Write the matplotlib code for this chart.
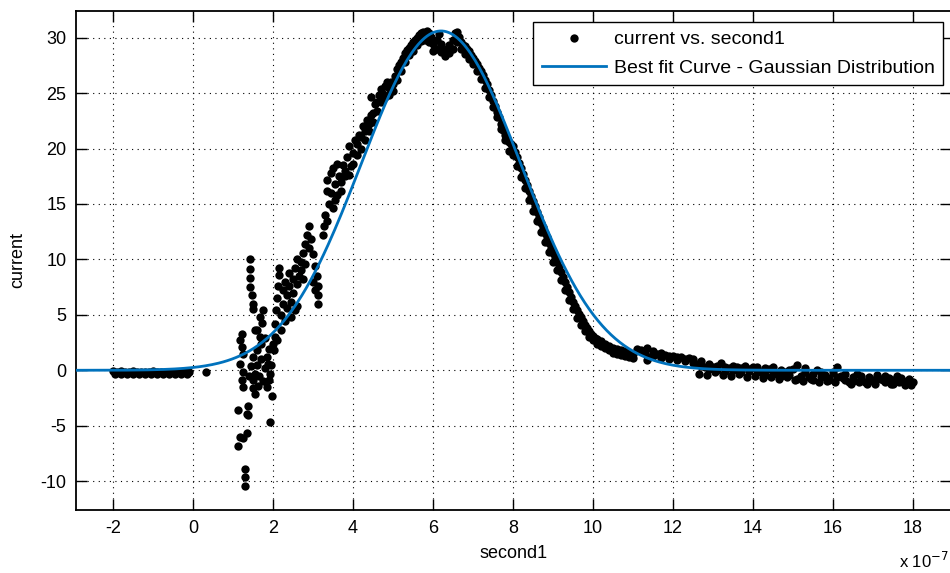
import numpy as np
import matplotlib.pyplot as plt

# time values are in units of 1e-7 s (the axis shows "x 10^-7")
sec_flat = [-2.0, -1.9, -1.8, -1.7, -1.6, -1.5, -1.4, -1.3, -1.2, -1.1,
            -1.0, -0.9, -0.8, -0.7, -0.6, -0.5, -0.4, -0.3, -0.2, -0.1, 0.33,
            -1.95, -1.8, -1.65, -1.5, -1.35, -1.2, -1.05, -0.9, -0.75, -0.6,
            -0.45, -0.3, -0.15]
cur_flat = [-0.1, -0.15, -0.1, -0.2, -0.15, -0.1, -0.2, -0.15, -0.2, -0.15,
            -0.1, -0.2, -0.15, -0.2, -0.2, -0.15, -0.2, -0.2, -0.15, -0.2, -0.2,
            -0.35, -0.3, -0.35, -0.3, -0.35, -0.35, -0.3, -0.35, -0.3, -0.35,
            -0.3, -0.35, -0.3]

# noisy start of the pulse
sec_noise = [1.43, 1.43, 1.43, 1.48, 1.5, 1.5, 1.68, 1.73, 1.6, 1.18,
             1.23, 1.25, 1.5, 1.18, 1.45, 1.25, 1.23, 1.25, 1.5, 1.5,
             1.55, 1.85, 1.98, 1.93, 1.88, 1.85, 1.13, 1.35, 1.38, 1.93,
             1.35, 1.25, 1.13, 1.3, 1.3, 1.3, 1.6, 1.7, 1.8, 1.65,
             1.75, 1.6, 1.7, 1.8, 1.9, 1.9, 1.95, 1.55, 1.62, 1.4,
             1.43, 1.75, 1.55, 1.68, 1.23, 1.18, 1.38]
cur_noise = [10.0, 9.1, 7.5, 6.8, 6.0, 5.5, 4.8, 4.3, 3.6, 2.7,
             2.1, 1.5, 1.2, 0.6, 0.4, -0.2, -0.9, -1.5, -0.9, -1.6,
             -2.1, -1.5, -2.3, -0.3, 0.6, 1.2, -3.6, -3.9, -3.2, -4.7,
             -5.7, -6.1, -6.8, -8.9, -9.6, -10.4, 1.8, 1.0, 0.2, -0.5,
             -1.0, 0.5, 2.4, 2.9, 1.9, -0.9, 0.5, -0.3, -1.4, -0.5,
             8.3, 5.4, 3.6, 3.0, 3.3, -6.0, -4.0]

# cloud between 2 and 3.3
sec_cloud = [2.05, 2.05, 2.08, 2.1, 2.12, 2.15, 2.15, 2.2, 2.2, 2.25,
             2.25, 2.3, 2.3, 2.35, 2.35, 2.4, 2.4, 2.45, 2.45, 2.5,
             2.5, 2.55, 2.55, 2.6, 2.6, 2.6, 2.0, 2.02, 2.1, 2.65,
             2.7, 2.7, 2.75, 2.75, 2.8, 2.8, 2.85, 2.9, 2.95, 3.0,
             3.05, 3.1, 3.12, 3.12, 3.12, 3.05, 3.0, 2.9]
cur_cloud = [3.0, 4.2, 5.4, 6.5, 7.6, 8.6, 9.2, 3.6, 5.0, 6.0,
             7.2, 8.0, 4.4, 5.6, 6.8, 7.6, 8.8, 4.8, 6.2, 7.0,
             8.2, 5.4, 9.2, 5.8, 7.8, 10.0, 2.4, 1.8, 2.7, 8.5,
             9.0, 9.8, 10.6, 8.2, 11.4, 9.6, 12.2, 13.0, 11.8, 10.5,
             7.2, 8.5, 7.6, 6.8, 6.0, 9.4, 8.0, 11.0]

# rising edge
sec_rise = [3.25, 3.28, 3.3, 3.35, 3.35, 3.35, 3.4, 3.45, 3.45, 3.55,
            3.55, 3.65, 3.7, 3.75, 3.8, 3.85, 3.95, 4.0, 4.05, 4.1,
            4.15, 4.2, 4.25, 4.3, 4.35, 4.4, 4.45, 4.5, 4.55, 4.6,
            4.65, 4.7, 4.75, 4.8, 4.9, 4.95, 5.0, 5.05, 5.1, 5.15,
            5.2, 5.25, 5.3, 5.35, 5.4, 5.45, 5.5, 5.55, 5.6, 5.65,
            3.5, 3.6, 3.9, 4.45, 4.85,
            3.5, 3.6, 3.7, 3.8, 3.9, 4.0, 4.1, 4.2, 4.3, 4.4,
            4.5, 4.6, 4.7, 4.8, 4.9, 5.0, 5.1, 5.2, 5.3, 5.4, 5.5]
cur_rise = [12.2, 13.0, 14.0, 13.5, 16.2, 17.2, 15.0, 17.8, 16.0, 16.8,
            15.4, 17.5, 16.2, 18.5, 17.5, 19.2, 18.4, 19.6, 20.8, 20.4,
            21.2, 21.0, 22.0, 21.6, 22.6, 22.2, 23.0, 23.2, 24.0, 24.2,
            24.8, 25.4, 24.9, 25.6, 25.5, 26.0, 25.8, 26.5, 27.2, 27.5,
            27.8, 28.2, 28.6, 28.9, 29.1, 29.3, 29.6, 29.8, 30.0, 30.2,
            18.2, 18.6, 20.2, 24.6, 26.0,
            14.6, 15.8, 17.0, 18.0, 17.6, 18.6, 19.4, 20.0, 20.8, 21.6,
            22.4, 23.4, 24.2, 24.6, 24.8, 25.2, 26.2, 27.0, 27.8, 28.4, 28.8]

# peak
sec_peak = [5.7, 5.75, 5.8, 5.85, 5.9, 5.95, 6.0, 6.05, 6.1, 6.15,
            6.2, 6.25, 6.3, 6.35, 6.4, 6.45, 6.5, 6.55, 6.6, 6.65,
            6.7, 6.75, 6.8, 6.85, 6.9, 6.95, 7.0, 7.05, 7.1, 7.15,
            7.2, 7.25, 7.3, 7.35, 7.4, 7.45, 7.5, 7.55, 7.6, 7.65,
            7.7, 7.75, 7.8, 7.85, 7.9, 7.95,
            5.6, 5.7, 5.8, 5.9, 6.0, 6.1, 6.2, 6.3, 6.4, 6.5,
            6.6, 6.7, 6.8, 6.9, 7.0, 7.1, 7.2, 7.3, 7.4, 7.5,
            7.6, 7.7, 7.8, 7.9]
cur_peak = [30.4, 30.5, 30.3, 30.6, 30.4, 30.1, 29.4, 29.0, 29.8, 30.3,
            29.4, 28.8, 28.6, 29.0, 29.3, 29.0, 29.8, 30.4, 30.5, 30.1,
            29.6, 29.3, 29.2, 29.0, 28.8, 28.4, 28.2, 27.9, 27.6, 27.3,
            27.0, 26.6, 26.2, 25.8, 25.3, 24.8, 24.3, 23.8, 23.3, 22.8,
            22.2, 21.7, 21.2, 20.8, 20.6, 20.4,
            29.3, 29.7, 29.8, 29.6, 28.8, 29.0, 28.7, 28.3, 28.6, 29.0,
            29.6, 29.0, 28.5, 28.1, 27.6, 27.0, 26.3, 25.5, 24.6, 23.7,
            22.8, 21.8, 20.8, 19.8]

# falling edge
sec_fall = [8.0, 8.05, 8.1, 8.15, 8.2, 8.25, 8.3, 8.35, 8.4, 8.45,
            8.5, 8.55, 8.6, 8.65, 8.7, 8.75, 8.8, 8.85, 8.9, 8.95,
            9.0, 9.05, 9.1, 9.15, 9.2, 9.25, 9.3, 9.35, 9.4, 9.45,
            9.5, 9.55, 9.6, 9.65, 9.7, 9.75, 9.8, 9.85, 9.9, 9.95,
            10.0, 10.05, 10.1, 10.2, 10.3, 10.4, 10.5, 10.6, 10.7, 10.8,
            10.9, 11.0, 11.35,
            8.0, 8.1, 8.2, 8.3, 8.4, 8.5, 8.6, 8.7, 8.8, 8.9,
            9.0, 9.1, 9.2, 9.3, 9.4, 9.5, 9.6, 9.7, 9.8, 9.9,
            10.0, 10.1, 10.2, 10.3, 10.4, 10.5, 10.6, 10.7, 10.8, 10.9, 11.0]
cur_fall = [20.2, 19.7, 19.2, 18.7, 18.2, 17.7, 17.2, 16.7, 16.2, 15.7,
            15.3, 14.8, 14.3, 13.8, 13.3, 12.9, 12.4, 12.0, 11.5, 11.0,
            10.6, 10.2, 9.8, 9.3, 8.9, 8.4, 8.0, 7.5, 7.1, 6.6,
            6.2, 5.8, 5.4, 5.1, 4.8, 4.4, 4.1, 3.8, 3.5, 3.3,
            3.1, 2.9, 2.8, 2.6, 2.4, 2.2, 2.0, 1.9, 1.8, 1.7,
            1.6, 1.5, 0.9,
            19.4, 18.4, 17.4, 16.4, 15.4, 14.4, 13.5, 12.5, 11.6, 10.7,
            9.8, 9.0, 8.1, 7.2, 6.3, 5.5, 4.7, 4.1, 3.5, 3.0,
            2.7, 2.4, 2.2, 2.0, 1.8, 1.6, 1.5, 1.4, 1.3, 1.2, 1.1]

# long tail
sec_tail = [11.2, 11.35, 11.5, 11.4, 11.6, 11.7, 11.8, 11.9, 12.0, 12.1,
            12.2, 12.3, 12.4, 12.5, 12.6, 12.7, 12.8, 12.9, 13.0, 13.1,
            13.2, 13.3, 13.4, 13.5, 13.6, 13.7, 13.8, 13.9, 14.0, 14.1,
            14.2, 14.3, 14.4, 14.5, 14.6, 14.7, 14.8, 14.9, 15.0, 15.1,
            15.2, 15.3, 15.4, 15.5, 15.6, 15.7, 15.8, 15.9, 16.0, 16.1,
            16.2, 16.3, 16.4, 16.5, 16.6, 16.7, 16.8, 16.9, 17.0, 17.1,
            17.2, 17.3, 17.4, 17.5, 17.6, 17.7, 17.8, 17.9, 18.0]
cur_tail = [1.8, 2.0, 1.7, 1.2, 1.5, 1.1, 1.4, 1.0, 1.3, 0.9,
            1.2, 0.8, 1.1, 0.7, 0.6, 0.4, 0.3, 0.6, 0.3, 0.4,
            0.7, 0.3, 0.2, 0.0, 0.3, 0.2, 0.4, 0.1, 0.3, 0.0,
            -0.2, 0.2, 0.1, -0.1, -0.3, 0.0, -0.2, -0.4, 0.1, 0.5,
            -0.5, -0.2, -0.6, -0.3, 0.0, -0.6, -0.4, -0.7, -0.2, 0.3,
            -0.5, -0.9, -1.1, -0.6, -0.3, -0.8, -1.1, -0.6, -0.9, -0.4,
            -0.8, -1.1, -0.7, -0.9, -0.5, -1.0, -1.3, -0.8, -1.1]
sec_tail2 = [12.65, 12.85, 13.05, 13.25, 13.45, 13.65, 13.85, 14.05, 14.25, 14.45,
             14.65, 14.85, 15.05, 15.25, 15.45, 15.65, 15.85, 16.05, 16.25, 16.45,
             16.65, 16.85, 17.05, 17.25, 17.45, 17.65, 17.85, 17.95,
             11.1, 11.3, 11.5, 11.7, 11.9, 12.1, 12.3, 12.5, 12.7, 12.9,
             13.1, 13.3, 13.5, 13.7, 13.9, 14.1, 14.3, 14.5, 14.7, 14.9,
             15.1, 15.3, 15.5, 15.7, 15.9, 16.1, 16.3, 16.5, 16.7, 16.9,
             17.1, 17.3, 17.5, 17.7, 17.9]
cur_tail2 = [-0.3, -0.4, -0.2, -0.4, -0.5, -0.3, -0.6, -0.5, -0.7, -0.6,
             -0.8, -0.6, -0.9, -1.0, -0.8, -1.1, -1.0, -1.1, -0.7, -1.2,
             -1.1, -1.2, -1.2, -0.9, -1.2, -1.1, -1.0, -1.3,
             1.9, 1.6, 1.3, 1.6, 1.3, 1.2, 1.0, 1.0, 0.8, 0.1,
             0.0, -0.1, 0.4, -0.2, -0.1, 0.3, -0.4, 0.3, -0.5, 0.0,
             -0.8, 0.2, -0.9, -0.2, -0.9, -0.6, -0.3, -1.0, -0.5, -1.0,
             -0.8, -0.5, -1.2, -0.7, -1.0]

# gaussian fit  a*exp(-((x-b)/c)^2)
fit_a = 30.6
fit_b = 6.2
fit_c = 2.83

sec = np.concatenate([sec_flat, sec_noise, sec_cloud, sec_rise, sec_peak,
                      sec_fall, sec_tail, sec_tail2])
cur = np.concatenate([cur_flat, cur_noise, cur_cloud, cur_rise, cur_peak,
                      cur_fall, cur_tail, cur_tail2])

plt.rcParams['font.family'] = ['Liberation Sans', 'DejaVu Sans']
plt.rcParams['axes.unicode_minus'] = False

fig = plt.figure(figsize=(9.5, 5.73), dpi=100)
ax = fig.add_axes([76 / 950, 63 / 573, 875 / 950, 499 / 573])

xfit = np.linspace(-2.925, 18.95, 400)
yfit = fit_a * np.exp(-((xfit - fit_b) / fit_c) ** 2)

ax.plot(sec, cur, 'o', color='black', markersize=6, markeredgewidth=0,
        label='current vs. second1', zorder=3)
ax.plot(xfit, yfit, color='#0072BD', linewidth=2,
        label='Best fit Curve - Gaussian Distribution', zorder=4)

ax.set_xlim(-2.925, 18.95)
ax.set_ylim(-12.6, 32.4)
ax.set_xticks(np.arange(-2, 19, 2))
ax.set_yticks(np.arange(-10, 31, 5))
ax.grid(True, color='black', linestyle=(0, (1, 4)), linewidth=0.8)
ax.tick_params(direction='in', length=8, width=1, top=True, right=True,
               labelsize=13, pad=7)
for s in ax.spines.values():
    s.set_linewidth(1.3)

ax.set_xlabel('second1', fontsize=13, labelpad=6)
ax.set_ylabel('current', fontsize=13, labelpad=10)
fig.text(899 / 950, 1 - 571 / 573, 'x 10$^{-7}$', fontsize=12, va='bottom')

leg = ax.legend(loc='upper right', bbox_to_anchor=(0.991, 0.978),
                borderaxespad=0, fontsize=14, fancybox=False, framealpha=1,
                edgecolor='black', handlelength=3.3, handletextpad=0.4,
                borderpad=0.45, labelspacing=0.55)
leg.get_frame().set_linewidth(1)

plt.savefig('out.png', dpi=100)
